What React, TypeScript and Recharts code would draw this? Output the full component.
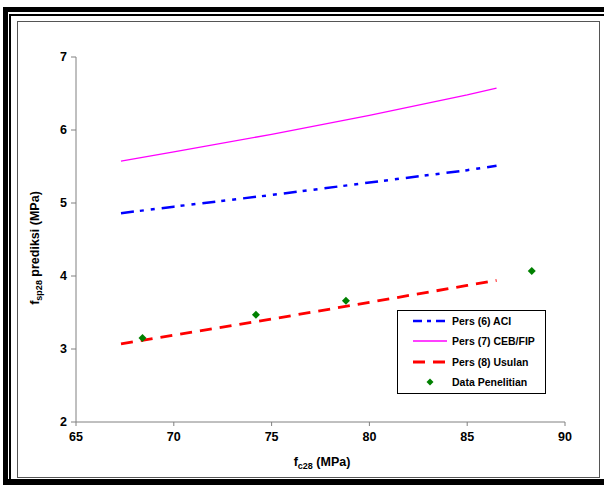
import { ComposedChart, Line, Scatter, XAxis, YAxis } from 'recharts';

const fcLine = [67.3, 70, 75, 80, 85, 86.5];
const aciValues = [4.86, 4.95, 5.11, 5.28, 5.45, 5.51];
const cebValues = [5.575, 5.7, 5.94, 6.2, 6.48, 6.575];
const usulanValues = [3.07, 3.19, 3.41, 3.64, 3.87, 3.94];

const fcTest = [68.4, 74.2, 78.8, 88.3];
const fspTest = [3.15, 3.47, 3.66, 4.07];

const xTicks = [65, 70, 75, 80, 85, 90];
const yTicks = [2, 3, 4, 5, 6, 7];

const lineData = fcLine.map((x, i) => ({
  x,
  aci: aciValues[i],
  ceb: cebValues[i],
  usulan: usulanValues[i],
}));
const testData = fcTest.map((x, i) => ({ x, y: fspTest[i] }));

const font = '"Liberation Sans", Arial, sans-serif';

const Diamond = (props: any) => {
  const { cx, cy } = props;
  if (cx == null || cy == null) return null;
  return <path d={`M${cx} ${cy - 4}L${cx + 4} ${cy}L${cx} ${cy + 4}L${cx - 4} ${cy}Z`} fill="#008000" />;
};

const legendRows = [
  { name: 'Pers (6) ACI', color: '#0000FF', dash: '9 5 4 5', width: 2.5, top: 10 },
  { name: 'Pers (7) CEB/FIP', color: '#FF00FF', dash: undefined, width: 1.3, top: 30 },
  { name: 'Pers (8) Usulan', color: '#FF0000', dash: '12 8', width: 3, top: 51 },
];

const LegendBox = () => (
  <div
    style={{
      position: 'absolute',
      left: 397,
      top: 310,
      width: 147,
      height: 82,
      border: '1px solid #000',
      background: '#fff',
      fontFamily: font,
      fontWeight: 'bold',
      fontSize: 10.5,
      color: '#000',
    }}
  >
    {legendRows.map((r) => (
      <div key={r.name} style={{ position: 'absolute', left: 15, top: r.top - 7, height: 14, display: 'flex', alignItems: 'center' }}>
        <svg width={36} height={8}>
          <line x1={0} y1={4} x2={34} y2={4} stroke={r.color} strokeWidth={r.width} strokeDasharray={r.dash} />
        </svg>
        <span style={{ marginLeft: 3, whiteSpace: 'nowrap' }}>{r.name}</span>
      </div>
    ))}
    <div style={{ position: 'absolute', left: 15, top: 64, height: 14, display: 'flex', alignItems: 'center' }}>
      <svg width={36} height={8}>
        <path d="M17 0.5L20.5 4L17 7.5L13.5 4Z" fill="#008000" />
      </svg>
      <span style={{ marginLeft: 3, whiteSpace: 'nowrap' }}>Data Penelitian</span>
    </div>
  </div>
);

const App = () => {
  return (
    <div style={{ position: 'fixed', left: 0, top: 0, width: 604, height: 485, background: '#fff', overflow: 'hidden' }}>
      {/* frame */}
      <div style={{ position: 'absolute', left: 3, top: 7, width: 601, height: 5, background: '#000' }} />
      <div style={{ position: 'absolute', left: 3, top: 7, width: 5, height: 478, background: '#000' }} />
      <div style={{ position: 'absolute', left: 9, top: 14, width: 595, height: 2, background: '#000' }} />
      <div style={{ position: 'absolute', left: 9, top: 14, width: 2, height: 471, background: '#000' }} />
      <div style={{ position: 'absolute', left: 3, top: 479, width: 601, height: 6, background: '#000' }} />
      <div style={{ position: 'absolute', left: 17, top: 21, width: 581, height: 455, border: '1px solid #555' }} />

      <div style={{ position: 'absolute', left: 0, top: 0 }}>
        <ComposedChart width={604} height={485} margin={{ top: 57, right: 39, bottom: 33, left: 36 }}>
          <XAxis
            type="number"
            dataKey="x"
            domain={[65, 90]}
            ticks={xTicks}
            stroke="#808080"
            tickSize={4}
            tickMargin={6}
            tick={{ fill: '#000', fontFamily: font, fontWeight: 'bold', fontSize: 12.5 }}
            height={30}
            allowDataOverflow
          />
          <YAxis
            type="number"
            domain={[2, 7]}
            ticks={yTicks}
            stroke="#808080"
            tickSize={5}
            tickMargin={4}
            tick={{ fill: '#000', fontFamily: font, fontWeight: 'bold', fontSize: 12.5 }}
            width={40}
            allowDataOverflow
          />
          <Line data={lineData} dataKey="aci" name="Pers (6) ACI" type="linear" stroke="#0000FF" strokeWidth={2.5} strokeDasharray="13 6 4 7 4 7" dot={false} isAnimationActive={false} />
          <Line data={lineData} dataKey="ceb" name="Pers (7) CEB/FIP" type="linear" stroke="#FF00FF" strokeWidth={1.3} dot={false} isAnimationActive={false} />
          <Line data={lineData} dataKey="usulan" name="Pers (8) Usulan" type="linear" stroke="#FF0000" strokeWidth={2.8} strokeDasharray="12 8" dot={false} isAnimationActive={false} />
          <Scatter data={testData} dataKey="y" name="Data Penelitian" fill="#008000" shape={<Diamond />} isAnimationActive={false} />
        </ComposedChart>
      </div>

      <LegendBox />

      <div
        style={{
          position: 'absolute',
          left: 36,
          top: 248,
          transform: 'translate(-50%, -50%) rotate(-90deg)',
          whiteSpace: 'nowrap',
          fontFamily: font,
          fontWeight: 'bold',
          fontSize: 12.5,
          color: '#000',
        }}
      >
        f<sub style={{ fontSize: 9 }}>sp28</sub> prediksi (MPa)
      </div>
      <div
        style={{
          position: 'absolute',
          left: 322,
          top: 463,
          transform: 'translate(-50%, -50%)',
          whiteSpace: 'nowrap',
          fontFamily: font,
          fontWeight: 'bold',
          fontSize: 12.5,
          color: '#000',
        }}
      >
        f<sub style={{ fontSize: 9 }}>c28</sub> (MPa)
      </div>
    </div>
  );
};

export default App;
